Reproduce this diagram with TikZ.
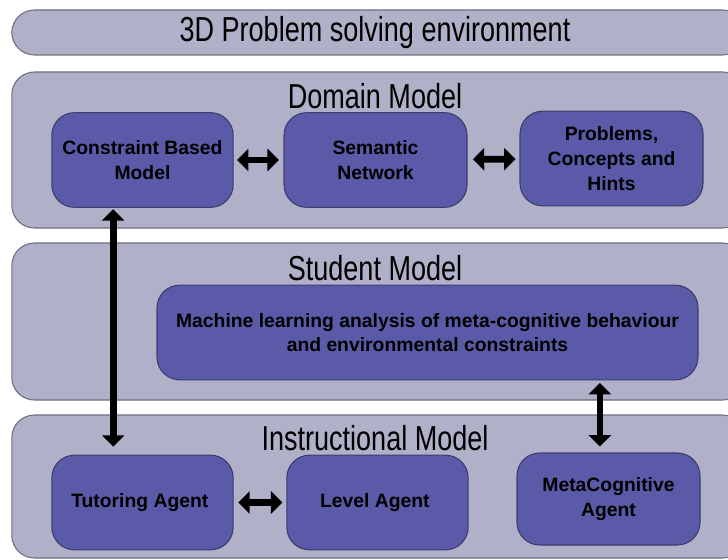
\documentclass[tikz,border=0pt]{standalone}
\usepackage{fontspec}
\setmainfont{Liberation Sans}
\newfontfamily\headfont[FakeStretch=0.78]{Liberation Sans}
\usetikzlibrary{arrows.meta}
\definecolor{panelgrey}{HTML}{B0B0C9}
\definecolor{paneledge}{HTML}{6F6F82}
\definecolor{agentblue}{HTML}{5A5AA8}
\definecolor{agentedge}{HTML}{3C3C6E}

\begin{document}
\begin{tikzpicture}[x=0.75pt, y=-0.75pt,
    panel/.style={
        rectangle,
        rounded corners=17pt,
        draw=paneledge,
        fill=panelgrey,
        line width=0.8pt,
        inner sep=0pt,
        minimum width=550pt
    },
    agent/.style={
        rectangle,
        rounded corners=17pt,
        draw=agentedge,
        fill=agentblue,
        line width=0.8pt,
        inner sep=0pt,
        align=center,
        minimum width=136pt,
        minimum height=71pt,
        font=\fontsize{14.5}{18.5}\selectfont\bfseries
    },
    heading/.style={
        inner sep=0pt,
        font=\headfont\fontsize{26}{30}\selectfont
    },
    link/.style={
        {Triangle[length=8.5pt,width=16.5pt]}-{Triangle[length=8.5pt,width=16.5pt]},
        line width=5pt
    }
]
    \useasboundingbox (0,0) rectangle (728,560);
    \clip (0,0) rectangle (728,560);
    % layers
    \node (environment) [panel, minimum height=33.75pt, shift={(378.5, 32.5)}] {};
    \node (domain) [panel, minimum height=117pt, shift={(378.5, 150)}] {};
    \node (student) [panel, minimum height=117.75pt, shift={(378.5, 321.5)}] {};
    \node (instructional) [panel, minimum height=107.25pt, shift={(378.5, 486.5)}] {};
    \node (environment_title) [heading, shift={(375, 33)}]
    {
        3D Problem solving environment
    };
    \node (domain_title) [heading, shift={(375, 96)}]
    {
        Domain Model
    };
    \node (student_title) [heading, shift={(375, 268)}]
    {
        Student Model
    };
    \node (instructional_title) [heading, shift={(375, 438)}]
    {
        Instructional Model
    };
    % components
    \node (constraint_model) [agent, shift={(142.5, 160)}]
    {
        Constraint Based\\Model
    };
    \node (semantic_network) [agent, minimum width=137.25pt, shift={(375.5, 160)}]
    {
        Semantic\\Network
    };
    \node (problems_hints) [agent, minimum width=137.25pt, shift={(611.5, 158.5)}]
    {
        Problems,\\Concepts and\\Hints
    };
    \node (learning_analysis) [agent, minimum width=405.75pt, shift={(427.5, 332.5)}]
    {
        Machine learning analysis of meta-cognitive behaviour\\and environmental constraints
    };
    \node (tutoring_agent) [agent, shift={(142.5, 502.5)}]
    {
        Tutoring Agent
    };
    \node (level_agent) [agent, shift={(377.5, 502.5)}]
    {
        Level Agent
    };
    \node (metacognitive_agent) [agent, minimum width=137.25pt, minimum height=69pt, shift={(608.5, 499)}]
    {
        MetaCognitive\\Agent
    };
    \draw[link, shorten <=2.5pt, shorten >=3.5pt] (constraint_model) to (semantic_network);
    \draw[link, shorten <=4pt, shorten >=3pt] (semantic_network) to (problems_hints);
    \draw[link, shorten <=3.5pt, shorten >=3pt] (tutoring_agent) to (level_agent);
    \draw[link, shorten <=1pt, shorten >=6pt] ([xshift=-22pt]constraint_model.south) to ([xshift=-22pt]tutoring_agent.north);
    \draw[link, shorten <=2pt, shorten >=4.5pt] ([xshift=-6.5pt]learning_analysis.south -| metacognitive_agent.north) to ([xshift=-6.5pt]metacognitive_agent.north);
\end{tikzpicture}
\end{document}
